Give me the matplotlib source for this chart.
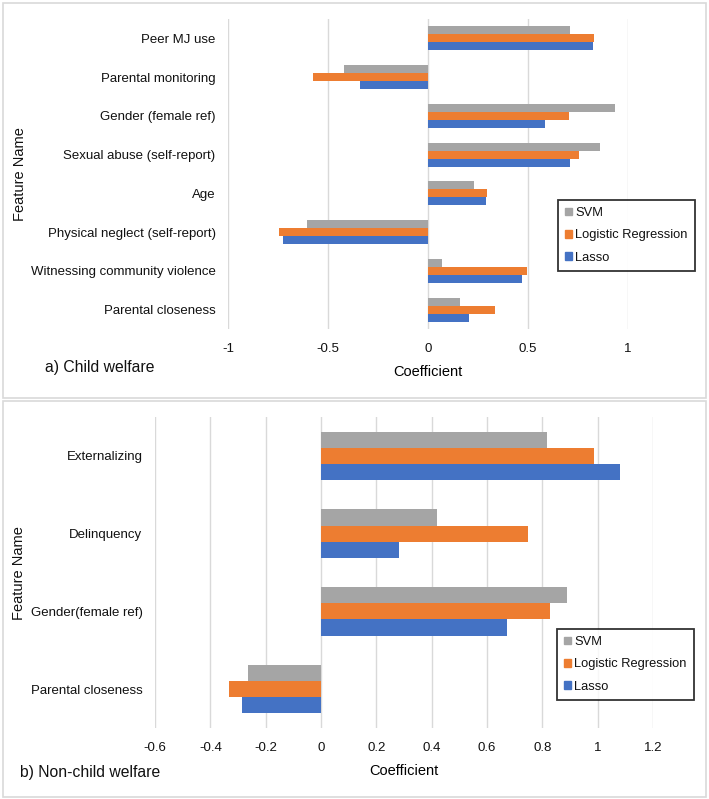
import numpy as np
import matplotlib
matplotlib.use("Agg")
import matplotlib.pyplot as plt
from matplotlib.patches import Patch, Rectangle

plt.rcParams["font.family"] = ["Liberation Sans", "DejaVu Sans"]
plt.rcParams["text.color"] = "#111111"

# ---- data ----
models = ["SVM", "Logistic Regression", "Lasso"]
colors = ["#A5A5A5", "#ED7D31", "#4472C4"]

cw_features = ["Peer MJ use", "Parental monitoring", "Gender (female ref)",
               "Sexual abuse (self-report)", "Age", "Physical neglect (self-report)",
               "Witnessing community violence", "Parental closeness"]
cw_svm = [0.71, -0.42, 0.935, 0.86, 0.23, -0.605, 0.072, 0.162]
cw_lr = [0.83, -0.577, 0.705, 0.753, 0.297, -0.743, 0.497, 0.335]
cw_lasso = [0.823, -0.339, 0.585, 0.712, 0.29, -0.725, 0.47, 0.205]
cw_ticks = [-1, -0.5, 0, 0.5, 1]

ncw_features = ["Externalizing", "Delinquency", "Gender(female ref)", "Parental closeness"]
ncw_svm = [0.817, 0.42, 0.889, -0.265]
ncw_lr = [0.986, 0.749, 0.828, -0.333]
ncw_lasso = [1.082, 0.283, 0.673, -0.286]
ncw_ticks = [-0.6, -0.4, -0.2, 0, 0.2, 0.4, 0.6, 0.8, 1, 1.2]

W, H = 709, 799
fig = plt.figure(figsize=(W / 100, H / 100), dpi=100)

# panel frames
for y0, y1 in [(3, 398), (401, 797)]:
    fig.patches.append(Rectangle((3 / W, 1 - y1 / H), 703 / W, (y1 - y0) / H,
                                 transform=fig.transFigure, fill=False,
                                 edgecolor="#d9d9d9", linewidth=1.2))


def panel(rect, feats, series, ticks, xlim, leg_anchor):
    ax = fig.add_axes(rect)
    y = np.arange(len(feats))
    h = 0.208
    for k, (vals, c) in enumerate(zip(series, colors)):
        ax.barh(y + (k - 1) * h, vals, h, color=c, zorder=3)
    ax.set_yticks(y)
    ax.set_yticklabels(feats, fontsize=9.5)
    ax.set_ylim(len(feats) - 0.5, -0.5)
    ax.set_xlim(*xlim)
    ax.set_xticks(ticks)
    ax.set_xticklabels([f"{t:g}" for t in ticks], fontsize=9.5)
    ax.grid(axis="x", color="#d9d9d9", linewidth=1, zorder=0)
    ax.tick_params(length=0, labelcolor="#111111")
    ax.tick_params(axis="x", pad=10)
    ax.tick_params(axis="y", pad=9)
    for s in ax.spines.values():
        s.set_visible(False)
    ax.set_xlabel("Coefficient", fontsize=10.5, labelpad=7)
    handles = [Patch(color=c, label=m) for m, c in zip(models, colors)]
    leg = fig.legend(handles=handles, loc="upper left", bbox_to_anchor=leg_anchor,
                     bbox_transform=fig.transFigure, fontsize=9.3, frameon=True,
                     fancybox=False, edgecolor="black", handlelength=0.55,
                     handleheight=0.55, handletextpad=0.25, labelspacing=0.8,
                     borderpad=0.55, borderaxespad=0)
    leg.get_frame().set_linewidth(1.3)
    return ax


panel([228 / W, 1 - 329 / H, 400 / W, 310 / H], cw_features,
      [cw_svm, cw_lr, cw_lasso], cw_ticks, (-1, 1), (558 / W, 1 - 200 / H))
panel([155 / W, 1 - 728 / H, 498 / W, 311 / H], ncw_features,
      [ncw_svm, ncw_lr, ncw_lasso], ncw_ticks, (-0.6, 1.2), (557 / W, 1 - 629 / H))

fig.text(20 / W, 1 - 174 / H, "Feature Name", rotation=90, fontsize=10.5,
         ha="center", va="center")
fig.text(19 / W, 1 - 573 / H, "Feature Name", rotation=90, fontsize=10.5,
         ha="center", va="center")
fig.text(45 / W, 1 - 368 / H, "a) Child welfare", fontsize=11.3, ha="left", va="center")
fig.text(20 / W, 1 - 773 / H, "b) Non-child welfare", fontsize=11.3, ha="left", va="center")

fig.savefig("out.png", dpi=100)
